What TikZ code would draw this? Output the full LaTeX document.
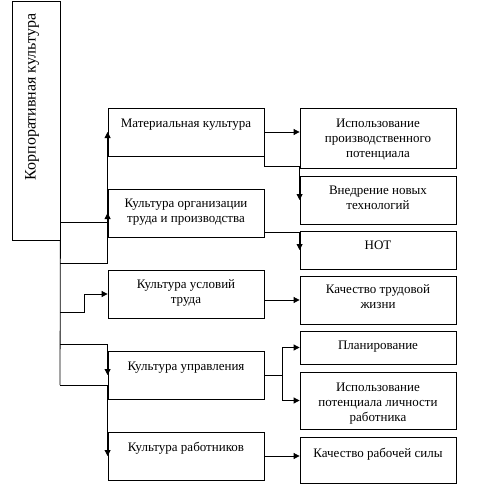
\documentclass[tikz,border=0pt]{standalone}
\usepackage{fontspec}
\setmainfont{Liberation Serif}
\usetikzlibrary{arrows.meta,positioning,calc}

\begin{document}
\begin{tikzpicture}[x=1pt,y=-1pt,
  box/.style={draw, line width=0.8pt, minimum width=156pt, inner sep=0pt},
  txt/.style={font=\fontsize{13}{15}\selectfont, align=center, inner sep=0pt},
  link/.style={line width=0.8pt},
  arr/.style={link, -{Triangle[length=6pt,width=6pt]}}]
\useasboundingbox (0,0) rectangle (486,493);

\node[box, minimum width=48pt, minimum height=239pt] (corp) at (36,120.5) {};
\node[txt, rotate=90, font=\fontsize{16}{18}\selectfont] (corpt) at (32,97) {Корпоративная культура};

\node[box, minimum height=48pt] (mat) at (186,132) {};
\node[txt, below=11pt of mat.north] (matt) {Материальная культура};
\node[box, minimum height=48pt] (org) at (186,213) {};
\node[txt, below=10pt of org.north] (orgt) {Культура организации\\труда и производства};
\node[box, minimum height=48pt] (usl) at (186,294) {};
\node[txt, below=10pt of usl.north] (uslt) {Культура условий\\труда};
\node[box, minimum height=48pt] (upr) at (186,375) {};
\node[txt, below=11pt of upr.north] (uprt) {Культура управления};
\node[box, minimum height=48pt] (rab) at (186,456) {};
\node[txt, below=10pt of rab.north] (rabt) {Культура работников};

\node[box, minimum height=60pt] (ispprod) at (378,138) {};
\node[txt, below=11pt of ispprod.north] (ispprodt) {Использование\\производственного\\потенциала};
\node[box, minimum height=48pt] (vnedr) at (378,200) {};
\node[txt, below=10pt of vnedr.north] (vnedrt) {Внедрение новых\\технологий};
\node[box, minimum height=38pt] (not) at (378,250) {};
\node[txt, below=10pt of not.north] (nott) {НОТ};
\node[box, minimum height=48pt] (kach) at (378,300) {};
\node[txt, below=9pt of kach.north] (kacht) {Качество трудовой\\жизни};
\node[box, minimum height=33pt] (plan) at (378,347.5) {};
\node[txt, below=10pt of plan.north] (plant) {Планирование};
\node[box, minimum height=57pt] (isplich) at (378,400.5) {};
\node[txt, below=11pt of isplich.north] (isplicht) {Использование\\потенциала личности\\работника};
\node[box, minimum height=46pt] (kachrab) at (378,460) {};
\node[txt, below=11pt of kachrab.north] (kachrabt) {Качество рабочей силы};

\coordinate (t1) at (60,263);
\coordinate (t2) at (60,312);
\coordinate (t3) at (60,344);
\coordinate (t4) at (60,385);

\draw[link] (corp.south east) -- (t4);
\draw[arr] ([yshift=18pt]corp.south east) -| (org.west);
\draw[arr] (t1) -| (mat.west);
\draw[arr] (t2) -- ++(24,0) |- (usl.west);
\draw[arr] (t3) -| (upr.west);
\draw[arr] (t4) -| (rab.west);

\draw[arr] (mat.east) -- (mat.east -| ispprod.west);
\draw[arr] (mat.south east) -- ++(0,10) -| (vnedr.west);
\draw[arr] ([yshift=5pt]org.south east) -| (not.west);
\draw[arr] (usl.east |- kach.west) -- (kach.west);
\draw[link] (upr.east) -- ++(18,0) coordinate (fork);
\draw[arr] (fork) |- (plan.west);
\draw[arr] (fork) |- (isplich.west);
\draw[arr] (rab.east) -- (rab.east -| kachrab.west);
\end{tikzpicture}
\end{document}
